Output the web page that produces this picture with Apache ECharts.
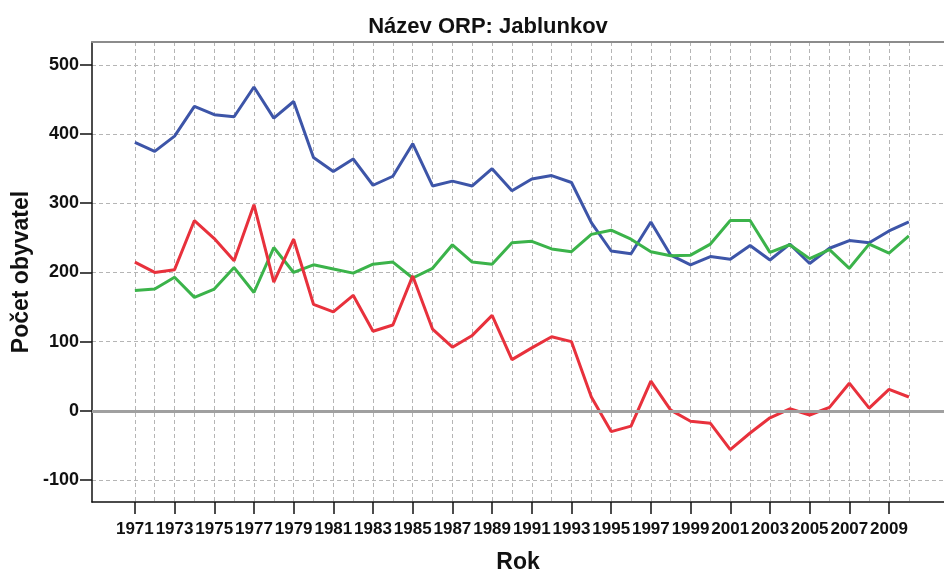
<!DOCTYPE html>
<html>
<head>
<meta charset="utf-8">
<script src="https://cdn.jsdelivr.net/npm/echarts@6/dist/echarts.min.js"></script>
<style>
  html, body { margin: 0; padding: 0; background: #fff; }
  #chart { width: 944px; height: 579px; }
</style>
</head>
<body>
<div id="chart"></div>
<script>
  // roky 1971-2010
  const years = []
  for (let y = 1971; y <= 2010; y++) years.push(y)

  const blueValues = [388, 375, 397, 440, 428, 425, 468, 423, 447, 366,
    346, 364, 326, 339, 386, 325, 332, 325, 350, 318,
    335, 340, 330, 272, 231, 227, 273, 225, 211, 223,
    219, 239, 218, 241, 213, 235, 246, 243, 260, 273]
  const greenValues = [174, 176, 193, 164, 176, 207, 171, 236, 200, 211,
    205, 199, 212, 215, 192, 206, 240, 215, 212, 243,
    245, 234, 230, 255, 261, 248, 230, 224, 225, 241,
    275, 275, 229, 240, 220, 233, 206, 241, 228, 253]
  const redValues = [215, 200, 204, 275, 249, 217, 298, 186, 248, 154,
    143, 167, 115, 124, 195, 118, 92, 109, 138, 74,
    91, 107, 100, 20, -30, -22, 43, 1, -15, -18,
    -56, -32, -10, 3, -6, 5, 40, 4, 31, 20]

  const yTicks = [-100, 0, 100, 200, 300, 400, 500]
  const xLabelYears = years.filter(y => y % 2 === 1)

  const font = 'Liberation Sans, Arial, sans-serif'

  const chart = echarts.init(document.getElementById('chart'))

  function lineSeries(name, values, color) {
    return {
      name: name,
      type: 'line',
      xAxisIndex: 0,
      symbol: 'none',
      lineStyle: { width: 3, color: color },
      itemStyle: { color: color },
      data: years.map((y, i) => [y, values[i]])
    }
  }

  const series = [
    lineSeries('A', blueValues, '#3d55a8'),
    lineSeries('B', greenValues, '#3bb34a'),
    lineSeries('C', redValues, '#e8313c')
  ]
  // nulova cara
  series[0].markLine = {
    silent: true,
    symbol: 'none',
    label: { show: false },
    lineStyle: { color: '#a0a0a0', width: 3, type: 'solid' },
    data: [{ yAxis: 0 }]
  }

  chart.setOption({
    animation: false,
    backgroundColor: '#fff',
    title: {
      text: 'Název ORP: Jablunkov',
      left: 483,
      top: 11,
      textAlign: 'center',
      textStyle: { fontFamily: font, fontSize: 22, fontWeight: 'bold', color: '#111' }
    },
    grid: { left: 92, top: 42, right: -3, bottom: 75 },
    xAxis: [{
      type: 'value',
      position: 'bottom',
      min: 1968.84,
      max: 2011.77,
      name: 'Rok',
      nameLocation: 'middle',
      nameGap: 49,
      nameMoveOverlap: false,
      nameTextStyle: { fontFamily: font, fontSize: 23, fontWeight: 'bold', color: '#111' },
      axisLine: { onZero: false, lineStyle: { color: '#111', width: 1.5 } },
      axisTick: { show: true, length: 12, customValues: xLabelYears, lineStyle: { color: '#111', width: 1.5 } },
      axisLabel: {
        customValues: xLabelYears,
        formatter: v => String(v),
        hideOverlap: false,
        showMinLabel: true,
        showMaxLabel: true,
        fontFamily: font, fontSize: 17, fontWeight: 'bold', color: '#111', margin: 19
      },
      splitLine: { show: false }
    }, {
      type: 'value',
      position: 'top',
      min: 1968.84,
      max: 2011.77,
      axisLine: { onZero: false, lineStyle: { color: '#8c8c8c', width: 2 } },
      axisTick: { show: false, customValues: years },
      axisLabel: { show: false },
      splitLine: { show: true, lineStyle: { color: '#b5b5b5', type: [4, 3], width: 1 } }
    }],
    yAxis: {
      type: 'value',
      min: -131.7,
      max: 533,
      name: 'Počet obyvatel',
      nameLocation: 'middle',
      nameGap: 59,
      nameMoveOverlap: false,
      nameTextStyle: { fontFamily: font, fontSize: 23, fontWeight: 'bold', color: '#111' },
      axisLine: { show: true, onZero: false, lineStyle: { color: '#111', width: 1.5 } },
      axisTick: { show: true, length: 12, customValues: yTicks, lineStyle: { color: '#111', width: 1.5 } },
      axisLabel: {
        customValues: yTicks,
        showMinLabel: true,
        showMaxLabel: true,
        fontFamily: font, fontSize: 18, fontWeight: 'bold', color: '#111', margin: 13
      },
      splitLine: { show: true, lineStyle: { color: '#b5b5b5', type: [4, 3], width: 1 } }
    },
    series: series
  })
</script>
</body>
</html>
